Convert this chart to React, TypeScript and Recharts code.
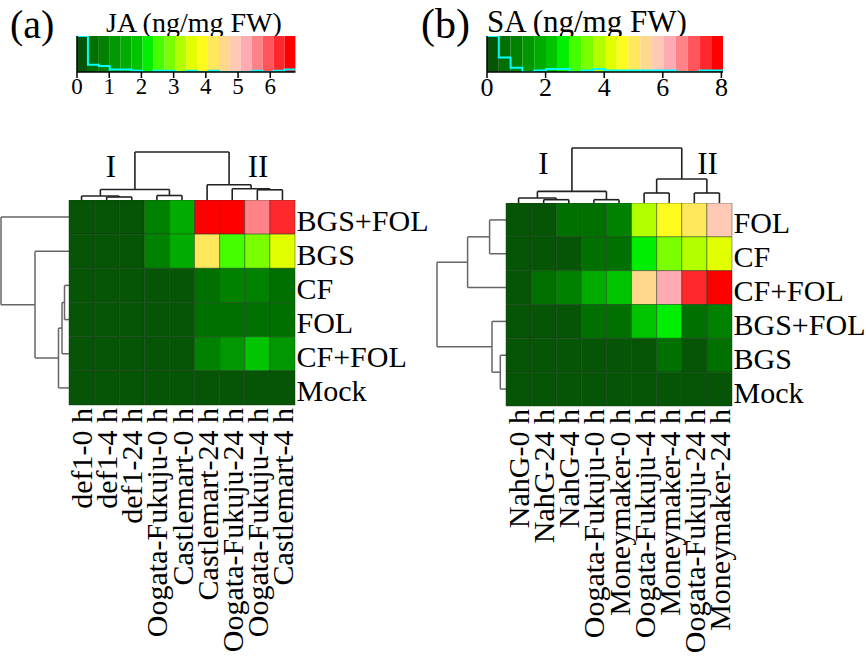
import React from 'react';
import { ComposedChart, XAxis, YAxis, ReferenceArea, ReferenceLine, Scatter, Line } from 'recharts';

const FONT = "'Liberation Serif', 'Times New Roman', Times, serif";

// 20-step colour key (dark green -> green -> yellow -> pink -> red)
const PALETTE = [
  '#065506', '#007000', '#008200', '#009700', '#00AC00', '#00C400', '#00EE00', '#44FF00', '#7AFF00', '#B2FF00',
  '#E2FF00', '#FFFB1E', '#FFE85C', '#FFD88E', '#FFC9B6', '#FFABB3', '#FF8289', '#FF555B', '#FF292D', '#FF0000',
];

// ---------- Panel (a): JA ----------
const jaColumns = [
  'def1-0 h', 'def1-4 h', 'def1-24 h', 'Oogata-Fukuju-0 h', 'Castlemart-0 h',
  'Castlemart-24 h', 'Oogata-Fukuju-24 h', 'Oogata-Fukuju-4 h', 'Castlemart-4 h',
];
const jaRows = ['BGS+FOL', 'BGS', 'CF', 'FOL', 'CF+FOL', 'Mock'];
const jaBgsFol = [0.15, 0.15, 0.15, 0.72, 1.45, 6.75, 6.55, 5.6, 6.25];
const jaBgs = [0.15, 0.15, 0.15, 0.72, 1.45, 4.25, 2.5, 2.9, 3.55];
const jaCf = [0.12, 0.12, 0.12, 0.1, 0.12, 0.5, 0.8, 0.9, 0.5];
const jaFol = [0.12, 0.12, 0.12, 0.1, 0.12, 0.5, 0.5, 0.45, 0.5];
const jaCfFol = [0.12, 0.12, 0.12, 0.1, 0.12, 0.8, 1.2, 1.85, 1.3];
const jaMock = [0.08, 0.08, 0.08, 0.08, 0.08, 0.08, 0.08, 0.08, 0.08];
const jaValues = [jaBgsFol, jaBgs, jaCf, jaFol, jaCfFol, jaMock];
// merges: [node, node, height]; negative = leaf (1-based display order), positive = earlier merge
const jaColMerges: [number, number, number][] = [
  [-2, -3, 3.5], [-1, 1, 4.5], [-4, -5, 5], [2, 3, 11],
  [-8, -9, 10.7], [-7, 5, 11.7], [-6, 6, 15.7], [4, 7, 48.5],
];
const jaRowMerges: [number, number, number][] = [
  [-3, -4, 4.5], [1, -5, 7], [2, -6, 10.5], [-2, 3, 34], [-1, 4, 68],
];
const jaKeyRange = [0, 6.78];
const jaKeyTicks = [0, 1, 2, 3, 4, 5, 6];
const jaCountTicks = [0, 4, 8, 12, 16, 20, 24, 28];

// ---------- Panel (b): SA ----------
const saColumns = [
  'NahG-0 h', 'NahG-24 h', 'NahG-4 h', 'Oogata-Fukuju-0 h', 'Moneymaker-0 h',
  'Oogata-Fukuju-4 h', 'Moneymaker-4 h', 'Oogata-Fukuju-24 h', 'Moneymaker-24 h',
];
const saRows = ['FOL', 'CF', 'CF+FOL', 'BGS+FOL', 'BGS', 'Mock'];
const saFol = [0.2, 0.2, 0.6, 0.6, 0.9, 3.9, 4.6, 5.0, 5.8];
const saCf = [0.2, 0.2, 0.1, 0.5, 0.5, 2.7, 3.4, 3.7, 4.2];
const saCfFol = [0.2, 0.6, 0.85, 1.75, 2.3, 5.4, 6.2, 7.4, 8.0];
const saBgsFol = [0.2, 0.2, 0.2, 0.6, 0.6, 2.2, 2.6, 0.5, 1.0];
const saBgs = [0.2, 0.2, 0.1, 0.1, 0.2, 0.1, 0.5, 0.2, 0.5];
const saMock = [0.15, 0.15, 0.15, 0.15, 0.15, 0.15, 0.15, 0.15, 0.15];
const saValues = [saFol, saCf, saCfFol, saBgsFol, saBgs, saMock];
const saColMerges: [number, number, number][] = [
  [-2, -3, 3.7], [-1, 1, 5.4], [-4, -5, 3.7], [2, 3, 12],
  [-6, -7, 10.4], [-8, -9, 10.4], [5, 6, 24.4], [4, 7, 55.4],
];
const saRowMerges: [number, number, number][] = [
  [-1, -2, 16.7], [1, -3, 38.7], [-5, -6, 6], [-4, 3, 14.3], [2, 4, 69.3],
];
const saKeyRange = [0, 8.055];
const saKeyTicks = [0, 2, 4, 6, 8];
const saCountTicks = [0, 4, 8, 12, 16, 20];

const NBINS = PALETTE.length;
const LABEL_FONT = 30;

function binOf(v: number, range: number[]) {
  const i = Math.floor(((v - range[0]) / (range[1] - range[0])) * NBINS);
  return Math.max(0, Math.min(NBINS - 1, i));
}

function dendroSegments(merges: [number, number, number][]) {
  const pos: { c: number; h: number }[] = [];
  const node = (id: number) => (id < 0 ? { c: -id - 0.5, h: 0 } : pos[id - 1]);
  const segs: number[][] = [];
  merges.forEach(([a, b, h]) => {
    const A = node(a);
    const B = node(b);
    segs.push([A.c, A.h, A.c, h], [A.c, h, B.c, h], [B.c, h, B.c, B.h]);
    pos.push({ c: (A.c + B.c) / 2, h });
  });
  return segs;
}

const Blank = () => <g />;

function ColDendro({ left, bottom, width, n, merges, color }: any) {
  const segs = dendroSegments(merges);
  const maxH = Math.max(...merges.map((m: number[]) => m[2]));
  const pts = Array.from({ length: n }, (_, i) => ({ x: i + 0.5, y: 0 }));
  return (
    <div style={{ position: 'absolute', left, top: bottom - maxH - 2 }}>
      <ComposedChart width={width} height={maxH + 2} margin={{ top: 2, right: 0, bottom: 0, left: 0 }}>
        <XAxis type="number" dataKey="x" domain={[0, n]} hide allowDataOverflow />
        <YAxis type="number" dataKey="y" domain={[0, maxH]} hide allowDataOverflow />
        {segs.map((s, i) => (
          <ReferenceLine key={i} segment={[{ x: s[0], y: s[1] }, { x: s[2], y: s[3] }]}
            stroke={color} strokeWidth={1.6} ifOverflow="visible" />
        ))}
        <Scatter data={pts} shape={Blank} isAnimationActive={false} />
      </ComposedChart>
    </div>
  );
}

function RowDendro({ right, top, height, n, merges, color }: any) {
  const segs = dendroSegments(merges);
  const maxH = Math.max(...merges.map((m: number[]) => m[2]));
  const pts = Array.from({ length: n }, (_, i) => ({ x: 0, y: i + 0.5 }));
  return (
    <div style={{ position: 'absolute', left: right - maxH - 2, top }}>
      <ComposedChart width={maxH + 2} height={height} margin={{ top: 0, right: 0, bottom: 0, left: 2 }}>
        <XAxis type="number" dataKey="x" domain={[0, maxH]} reversed hide allowDataOverflow />
        <YAxis type="number" dataKey="y" domain={[0, n]} reversed hide allowDataOverflow />
        {segs.map((s, i) => (
          <ReferenceLine key={i} segment={[{ x: s[1], y: s[0] }, { x: s[3], y: s[2] }]}
            stroke={color} strokeWidth={1.5} ifOverflow="visible" />
        ))}
        <Scatter data={pts} shape={Blank} isAnimationActive={false} />
      </ComposedChart>
    </div>
  );
}

function Heatmap({ left, top, width, height, cols, rows, values, range, labelW, labelH }: any) {
  const nC = cols.length;
  const nR = rows.length;
  const padL = 26;
  const pts: { x: number; y: number }[] = [];
  const cells: any[] = [];
  values.forEach((row: number[], r: number) =>
    row.forEach((v: number, c: number) => {
      pts.push({ x: c + 0.5, y: r + 0.5 });
      cells.push(
        <ReferenceArea key={`${r}-${c}`} x1={c} x2={c + 1} y1={r} y2={r + 1}
          fill={PALETTE[binOf(v, range)]} fillOpacity={1}
          stroke="#143414" strokeOpacity={0.55} strokeWidth={0.8} ifOverflow="visible" />
      );
    })
  );
  const colTick = (p: any) => {
    const label = cols[Math.floor(p.payload.value)];
    const ty = p.y + 3;
    return (
      <text x={p.x} y={ty} transform={`rotate(-90 ${p.x} ${ty})`} textAnchor="end" dy={10.5}
        fontSize={LABEL_FONT} fontFamily={FONT} fill="#000">{label}</text>
    );
  };
  const rowTick = (p: any) => {
    const label = rows[Math.floor(p.payload.value)];
    return (
      <text x={p.x + 1.5} y={p.y} dy={13.5} textAnchor="start" fontSize={LABEL_FONT} fontFamily={FONT} fill="#000">{label}</text>
    );
  };
  return (
    <div style={{ position: 'absolute', left: left - padL, top }}>
      <ComposedChart width={padL + width + labelW} height={height + labelH} margin={{ top: 0, right: 0, bottom: 0, left: padL }}>
        <XAxis type="number" dataKey="x" domain={[0, nC]} ticks={cols.map((_: any, i: number) => i + 0.5)}
          interval={0} height={labelH} axisLine={false} tickLine={false} tickSize={0} tickMargin={0}
          tick={colTick} allowDataOverflow />
        <YAxis type="number" dataKey="y" domain={[0, nR]} reversed orientation="right"
          ticks={rows.map((_: any, i: number) => i + 0.5)} interval={0} width={labelW}
          axisLine={false} tickLine={false} tickSize={0} tickMargin={0} tick={rowTick} allowDataOverflow />
        {cells}
        <Scatter data={pts} shape={Blank} isAnimationActive={false} />
      </ComposedChart>
    </div>
  );
}

function ColorKey({ left, top, barWidth, barHeight, range, ticks, countTicks, values, tickFont }: any) {
  const counts = new Array(NBINS).fill(0);
  values.flat().forEach((v: number) => { counts[binOf(v, range)] += 1; });
  const maxCount = Math.max(...counts);
  const step = (range[1] - range[0]) / NBINS;
  const edges = Array.from({ length: NBINS + 1 }, (_, i) => range[0] + i * step);
  const stepData = counts.map((c, i) => ({ x: edges[i], y: c })).concat([{ x: edges[NBINS], y: counts[NBINS - 1] }]);
  const yW = 12;
  return (
    <div style={{ position: 'absolute', left: left - yW, top: top - 2 }}>
      <ComposedChart width={yW + barWidth + 14} height={barHeight + 2 + 36} data={stepData}
        margin={{ top: 2, right: 14, bottom: 0, left: 0 }}>
        <XAxis type="number" dataKey="x" domain={range} ticks={ticks} interval={0} allowDataOverflow
          height={36} tickSize={6} tickMargin={0}
          axisLine={{ stroke: '#000', strokeWidth: 1.5 }} tickLine={{ stroke: '#000', strokeWidth: 1.5 }}
          tick={{ fill: '#000', fontSize: tickFont, fontFamily: FONT }} />
        <YAxis type="number" dataKey="y" domain={[0, maxCount]} ticks={countTicks} interval={0} width={yW}
          tickSize={10} tick={false} allowDataOverflow
          axisLine={{ stroke: '#000', strokeWidth: 1.5 }} tickLine={{ stroke: '#000', strokeWidth: 1.5 }} />
        {counts.map((_, i) => (
          <ReferenceArea key={i} x1={edges[i]} x2={edges[i + 1]} y1={0} y2={maxCount}
            fill={PALETTE[i]} fillOpacity={1} stroke="none" ifOverflow="visible" />
        ))}
        <Line type="stepAfter" dataKey="y" stroke="#00FFFF" strokeWidth={2} dot={false} isAnimationActive={false} />
      </ComposedChart>
    </div>
  );
}

export default function App() {
  return (
    <div style={{ position: 'absolute', left: 0, top: 0, width: 866, height: 659, overflow: 'hidden', background: '#fff' }}>
      <svg width={866} height={659} style={{ position: 'absolute', left: 0, top: 0 }} fontFamily={FONT}>
        <text x={10} y={38} fontSize={40} fill="#000">(a)</text>
        <text x={106} y={32} fontSize={28} fill="#000">JA (ng/mg FW)</text>
        <text x={421} y={38} fontSize={42} fill="#000">(b)</text>
        <text x={487} y={32} fontSize={31} fill="#000">SA (ng/mg FW)</text>
        <text x={111} y={177} fontSize={31} textAnchor="middle" fill="#000">I</text>
        <text x={258} y={177} fontSize={31} textAnchor="middle" fill="#000">II</text>
        <text x={543.5} y={173.5} fontSize={31} textAnchor="middle" fill="#000">I</text>
        <text x={707.5} y={173.5} fontSize={31} textAnchor="middle" fill="#000">II</text>
      </svg>

      <ColorKey left={76.7} top={35.5} barWidth={218.4} barHeight={36} range={jaKeyRange}
        ticks={jaKeyTicks} countTicks={jaCountTicks} values={jaValues} tickFont={23} />
      <ColorKey left={487.3} top={35.5} barWidth={236} barHeight={36} range={saKeyRange}
        ticks={saKeyTicks} countTicks={saCountTicks} values={saValues} tickFont={26} />

      <ColDendro left={69} bottom={200} width={226} n={9} merges={jaColMerges} color="#222" />
      <RowDendro right={69} top={200} height={205} n={6} merges={jaRowMerges} color="#666" />
      <Heatmap left={69} top={200} width={226} height={205} cols={jaColumns} rows={jaRows}
        values={jaValues} range={jaKeyRange} labelW={150} labelH={254} />

      <ColDendro left={506} bottom={203} width={226} n={9} merges={saColMerges} color="#222" />
      <RowDendro right={506} top={203} height={203} n={6} merges={saRowMerges} color="#666" />
      <Heatmap left={506} top={203} width={226} height={203} cols={saColumns} rows={saRows}
        values={saValues} range={saKeyRange} labelW={134} labelH={256} />
    </div>
  );
}
